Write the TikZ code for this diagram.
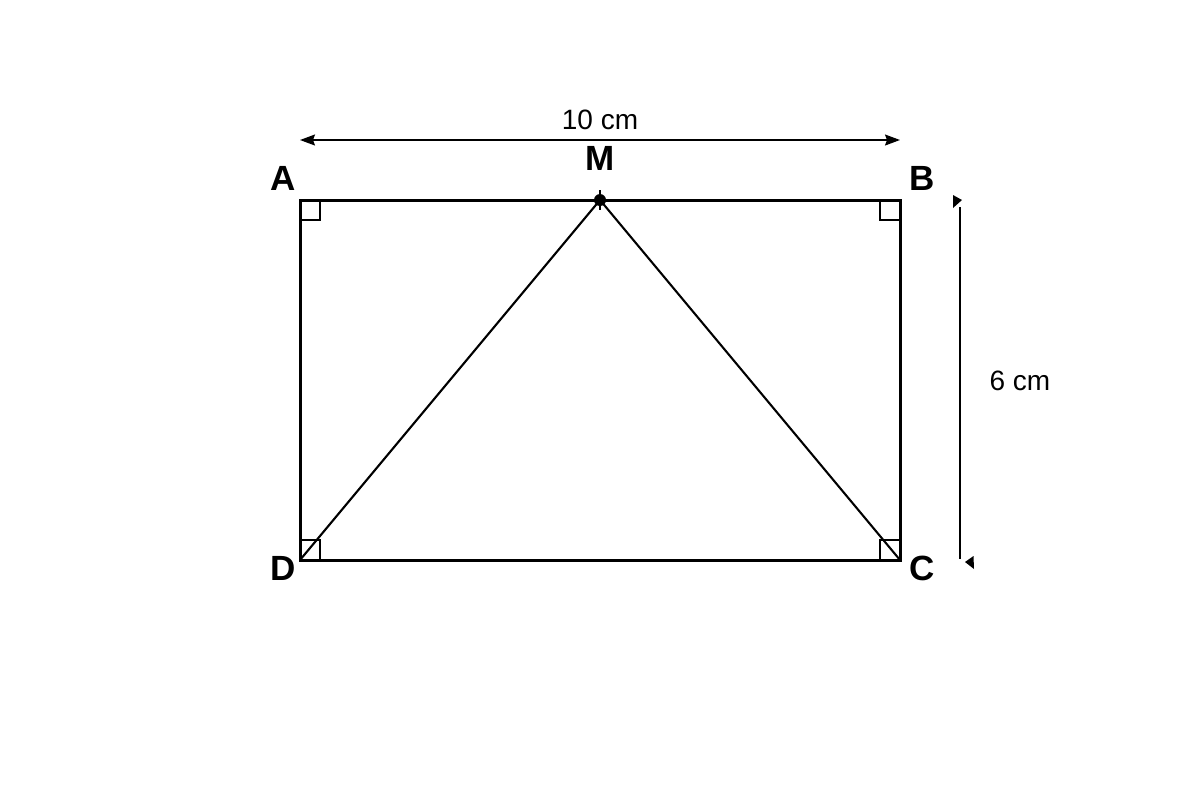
\documentclass[tikz,border=0pt]{standalone}
\usepackage{fontspec}
\setmainfont{Liberation Sans}
\usetikzlibrary{arrows.meta}
\begin{document}
\begin{tikzpicture}[x=0.5pt,y=-0.5pt,
  vlabel/.style={font=\bfseries\fontsize{17.5}{20}\selectfont},
  dimlabel/.style={font=\fontsize{14}{17}\selectfont},
  rectline/.style={line width=1.5pt},
  segline/.style={line width=1.05pt},
  dimline/.style={line width=0.7pt},
  ramark/.style={line width=0.8pt}]
\useasboundingbox (0,0) rectangle (1200,800);
\coordinate (A) at (300,200);
\coordinate (B) at (900,200);
\coordinate (C) at (900,560);
\coordinate (D) at (300,560);
\coordinate (M) at (600,200);
% right angle marks
\draw[ramark] (300,220) -| (320,200);
\draw[ramark] (880,200) |- (900,220);
\draw[ramark] (300,540) -| (320,560);
\draw[ramark] (880,560) |- (900,540);
% rectangle
\draw[rectline] (A) -- (B) -- (C) -- (D) -- cycle;
% segments
\draw[segline] (M) -- (D);
\draw[segline] (M) -- (C);
\draw[line width=0.6pt] (600,190) -- (600,210);
\fill (M) circle (6);
% labels
\node[vlabel] (lA) at (283,178) {A};
\node[vlabel] (lB) at (922,178) {B};
\node[vlabel] (lC) at (922,568) {C};
\node[vlabel] (lD) at (283,568) {D};
\node[vlabel] (lM) at (600,158) {M};
% horizontal dimension
\coordinate (h1) at (300,140);
\coordinate (h2) at (900,140);
\draw[dimline,{Stealth[length=7.5pt,width=5.5pt,inset=1pt]}-{Stealth[length=7.5pt,width=5.5pt,inset=1pt]}] (h1) -- (h2);
\node[dimlabel] (l10) at (600,120) {10 cm};
% vertical dimension
\coordinate (v1) at (960,207);
\coordinate (v2) at (960,559);
\draw[dimline] (v1) -- (v2);
\fill (953,195) -- (953,208) -- (962,200) -- cycle;
\fill (965,562) -- (973.5,556) -- (974,569) -- cycle;
\node[dimlabel] (l6) at (1020,381) {6 cm};
\end{tikzpicture}
\end{document}
